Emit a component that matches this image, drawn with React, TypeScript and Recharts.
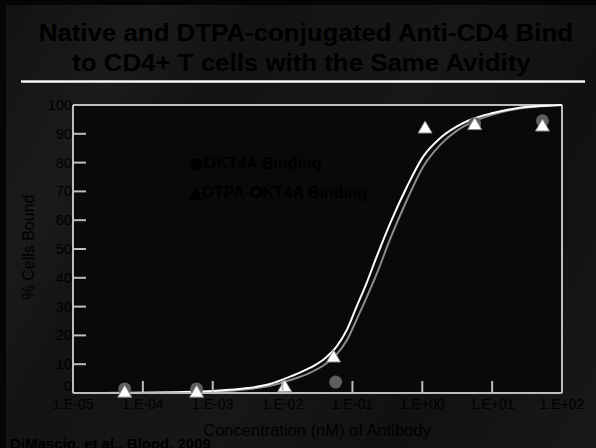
import { ComposedChart, Line, Scatter, XAxis, YAxis, CartesianGrid, ReferenceLine } from 'recharts';

// log10 of concentration (nM) on the x axis
const xTicks = [-5, -4, -3, -2, -1, 0, 1, 2];
const xTickLabels = ['1.E-05', '1.E-04', '1.E-03', '1.E-02', '1.E-01', '1.E+00', '1.E+01', '1.E+02'];
const yTicks = [0, 10, 20, 30, 40, 50, 60, 70, 80, 90, 100];

// fitted curves
const fitLogConc = [-5, -4, -3.5, -3, -2.5, -2.18, -1.89, -1.61, -1.39, -1.23, -1.08, -0.94, -0.8, -0.65, -0.46, -0.22, 0.01, 0.25, 0.49, 0.68, 1.01, 1.35, 1.73, 2];
const whiteFit = [0, 0.1, 0.3, 0.7, 1.7, 3.1, 5.7, 8.7, 12.1, 16, 21.9, 30, 38, 47.5, 58.9, 71.6, 82, 88.4, 92.5, 94.8, 97.2, 98.9, 99.7, 100];
const grayFit = [0, 0.1, 0.2, 0.5, 1.3, 2.5, 4.5, 7, 10, 13.3, 18.3, 25.5, 33, 41.5, 53.5, 67, 78.5, 86, 91, 93.7, 96.7, 98.6, 99.6, 100];

// measured points
const okt4aLogConc = [-4.26, -3.23, -1.24, 0.75, 1.72];
const okt4aBound = [1.4, 1.4, 3.8, 93.5, 94.5];
const dtpaLogConc = [-4.26, -3.23, -1.97, -1.27, 0.04, 0.75, 1.72];
const dtpaBound = [0.3, 0.3, 2.2, 12.5, 92, 93.2, 92.7];

const PLOT_LEFT = 73;
const PLOT_BOTTOM = 393;
const FONT = 'Arial, "Liberation Sans", sans-serif';

const whiteData = fitLogConc.map((x, i) => ({ x, y: whiteFit[i] }));
const grayData = fitLogConc.map((x, i) => ({ x, y: grayFit[i] }));
const okt4aData = okt4aLogConc.map((x, i) => ({ x, y: okt4aBound[i] }));
const dtpaData = dtpaLogConc.map((x, i) => ({ x, y: dtpaBound[i] }));

const XTick = (props: any) => {
  const { payload } = props;
  const cx = payload.coordinate;
  const idx = xTicks.indexOf(payload.value);
  return (
    <g>
      <line x1={cx} x2={cx} y1={PLOT_BOTTOM} y2={PLOT_BOTTOM - 12} stroke="#bdbdbd" strokeWidth={2} />
      <text x={cx} y={PLOT_BOTTOM + 16} textAnchor="middle" fontSize={14} fontFamily={FONT} fill="#000">
        {xTickLabels[idx]}
      </text>
    </g>
  );
};

const YTick = (props: any) => {
  const { payload } = props;
  const cy = payload.coordinate;
  // the zero label sits a little higher, clear of the x labels
  const shift = payload.value === 0 ? -7 : 0;
  return (
    <g>
      <line x1={PLOT_LEFT} x2={PLOT_LEFT + 13} y1={cy} y2={cy} stroke="#bdbdbd" strokeWidth={2} />
      <text x={PLOT_LEFT - 1} y={cy + 5 + shift} textAnchor="end" fontSize={14.5} fontFamily={FONT} fill="#000">
        {payload.value}
      </text>
    </g>
  );
};

const Triangle = (props: any) => {
  const { cx, cy } = props;
  return (
    <polygon
      points={`${cx},${cy - 7} ${cx + 7},${cy + 5} ${cx - 7},${cy + 5}`}
      fill="#fff"
      stroke="#8a8a8a"
      strokeWidth={1}
    />
  );
};

const Dot = (props: any) => {
  const { cx, cy } = props;
  return <circle cx={cx} cy={cy} r={6.5} fill="#5e5e5e" />;
};

const titleStyle = {
  position: 'absolute' as const,
  top: 0,
  width: 0,
  display: 'flex',
  justifyContent: 'center',
  whiteSpace: 'nowrap' as const,
  fontSize: 23.5,
  fontWeight: 'bold' as const,
  color: '#000',
  lineHeight: '27px',
};

export default function App() {
  return (
    <div
      style={{
        position: 'absolute',
        left: 0,
        top: 0,
        width: 596,
        height: 448,
        overflow: 'hidden',
        background:
          'linear-gradient(120deg, #121212 0%, #1b1b1b 18%, #131313 30%, #171717 55%, #111111 75%, #181818 100%)',
        fontFamily: FONT,
      }}
    >
      <div style={{ position: 'absolute', left: 0, top: 0, width: 6, height: 448, background: '#050505' }} />
      <div style={{ position: 'absolute', left: 0, top: 0, width: 596, height: 5, background: '#050505' }} />
      <div style={{ ...titleStyle, left: 306, top: 20 }}>
        <span style={{ display: 'inline-block', transform: 'scaleX(1.1)' }}>Native and DTPA-conjugated Anti-CD4 Bind</span>
      </div>
      <div style={{ ...titleStyle, left: 301, top: 50 }}>
        <span style={{ display: 'inline-block', transform: 'scaleX(1.1)' }}>to CD4+ T cells with the Same Avidity</span>
      </div>
      <div
        style={{
          position: 'absolute',
          left: 21,
          top: 80,
          width: 564,
          height: 3,
          background: 'linear-gradient(to bottom, #888, #fff, #999)',
        }}
      />
      <ComposedChart width={596} height={448} margin={{ top: 105, right: 34, bottom: 35, left: 0 }}>
        <CartesianGrid fill="#090909" horizontal={false} vertical={false} />
        <XAxis
          type="number"
          dataKey="x"
          domain={[-5, 2]}
          ticks={xTicks}
          allowDataOverflow
          height={20}
          tickLine={false}
          axisLine={{ stroke: '#bdbdbd', strokeWidth: 2 }}
          tick={<XTick />}
          interval={0}
        />
        <YAxis
          type="number"
          dataKey="y"
          domain={[0, 100]}
          ticks={yTicks}
          width={73}
          tickLine={false}
          axisLine={{ stroke: '#bdbdbd', strokeWidth: 2 }}
          tick={<YTick />}
          interval={0}
        />
        <ReferenceLine y={100} stroke="#bdbdbd" strokeWidth={2} />
        <ReferenceLine x={2} stroke="#bdbdbd" strokeWidth={2} />
        <Line data={grayData} dataKey="y" type="monotone" stroke="#8c8c8c" strokeWidth={2} dot={false} isAnimationActive={false} />
        <Line data={whiteData} dataKey="y" type="monotone" stroke="#ffffff" strokeWidth={2} dot={false} isAnimationActive={false} />
        <Scatter data={okt4aData} dataKey="y" shape={<Dot />} isAnimationActive={false} />
        <Scatter data={dtpaData} dataKey="y" shape={<Triangle />} isAnimationActive={false} />
      </ComposedChart>
      <div style={{ position: 'absolute', left: 189, top: 153, fontSize: 16, fontWeight: 'bold', color: '#000', whiteSpace: 'nowrap' }}>
        <span style={{ fontFamily: '"DejaVu Sans"', fontSize: 17 }}>●</span>OKT4A Binding
      </div>
      <div style={{ position: 'absolute', left: 189, top: 182, fontSize: 16, fontWeight: 'bold', color: '#000', whiteSpace: 'nowrap' }}>
        <span style={{ fontFamily: '"DejaVu Sans"', fontSize: 17 }}>▲</span>DTPA-OKT4A Binding
      </div>
      <div
        style={{
          position: 'absolute',
          left: 29,
          top: 247,
          transform: 'translate(-50%, -50%) rotate(-90deg)',
          fontSize: 16,
          color: '#000',
          whiteSpace: 'nowrap',
        }}
      >
        % Cells Bound
      </div>
      <div style={{ position: 'absolute', left: 317, top: 421, transform: 'translateX(-50%)', fontSize: 16.5, color: '#000', whiteSpace: 'nowrap' }}>
        Concentration (nM) of Antibody
      </div>
      <div style={{ position: 'absolute', left: 10, top: 435, fontSize: 15, fontWeight: 'bold', color: '#000', whiteSpace: 'nowrap' }}>
        DiMascio, et al., Blood, 2009
      </div>
    </div>
  );
}
